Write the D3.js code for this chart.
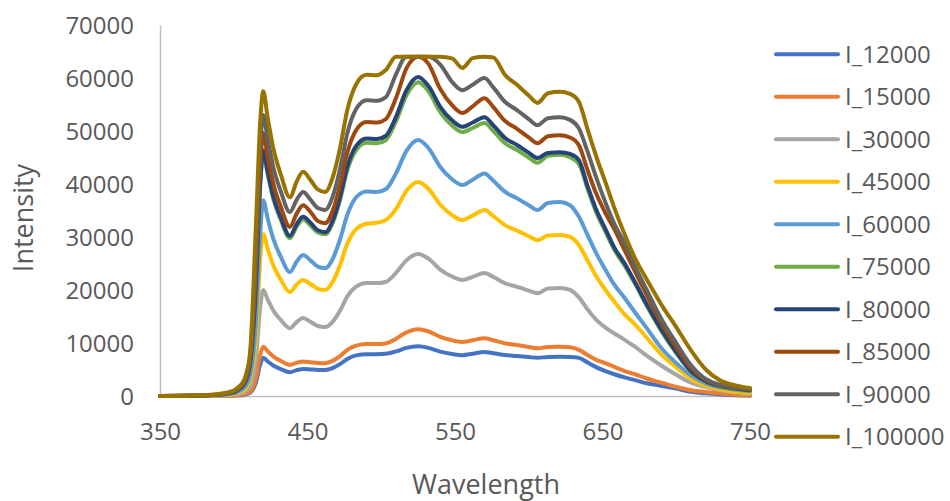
<!DOCTYPE html>
<html>
<head>
<meta charset="utf-8">
<script src="https://cdn.jsdelivr.net/npm/d3@7"></script>
<style>
  body { margin: 0; background: #fff; }
  text { font-family: "Open Sans", sans-serif; fill: #595959; }
</style>
</head>
<body>
<div id="chart"></div>
<script>
// wavelength grid (nm) shared by every series
const wavelength = [350, 380, 395, 402, 407, 411, 415, 418, 420, 423, 427, 432, 438, 443, 447, 452, 457, 462, 467, 472, 477, 483, 490, 497, 503, 510, 517, 525, 532, 540, 548, 555, 562, 570, 576, 584, 592, 600, 606, 613, 621, 628, 634, 640, 646, 652, 658, 665, 672, 680, 690, 700, 710, 720, 730, 740, 750];

const i12000 = [0, 0, 30, 100, 250, 600, 2500, 6000, 7200, 6520, 5720, 5070, 4500, 4900, 5100, 5020, 4920, 4900, 5260, 6010, 6990, 7660, 7900, 7900, 7960, 8430, 9070, 9400, 9090, 8380, 7920, 7700, 7970, 8300, 8080, 7740, 7550, 7340, 7200, 7370, 7400, 7360, 7200, 6300, 5400, 4700, 4100, 3500, 3000, 2400, 1900, 1400, 800, 500, 300, 150, 50];
const i15000 = [0, 0, 40, 150, 350, 800, 3300, 7800, 9300, 8450, 7430, 6610, 5900, 6300, 6500, 6380, 6240, 6200, 6630, 7530, 8720, 9510, 9800, 9800, 9910, 10780, 11980, 12600, 12170, 11160, 10510, 10200, 10520, 10900, 10520, 9930, 9610, 9250, 9000, 9260, 9300, 9180, 8700, 7700, 6800, 6200, 5500, 4700, 4100, 3300, 2500, 1700, 1100, 750, 450, 250, 100];
const i30000 = [0, 20, 100, 300, 700, 1700, 7000, 17000, 20000, 18200, 16040, 14310, 12800, 14050, 14700, 14020, 13200, 13000, 14000, 16070, 18810, 20640, 21300, 21300, 21520, 23230, 25590, 26800, 25920, 23860, 22540, 21900, 22490, 23200, 22440, 21260, 20620, 19890, 19400, 20270, 20400, 20020, 18600, 16300, 14300, 12900, 11800, 10600, 9300, 7600, 5700, 4000, 2500, 1700, 1100, 700, 400];
const i45000 = [0, 50, 200, 500, 1100, 3000, 11000, 26000, 30500, 27780, 24510, 21890, 19600, 21120, 21900, 21140, 20230, 20000, 21500, 24630, 28750, 31500, 32500, 32700, 33200, 35270, 38660, 40400, 39100, 36080, 34140, 33200, 34060, 35100, 33960, 32190, 31220, 30140, 29400, 30270, 30400, 30020, 28500, 25500, 22500, 20000, 17800, 15400, 13500, 11000, 7800, 5400, 3200, 1900, 1200, 800, 500];
const i60000 = [0, 80, 300, 700, 1500, 3800, 14000, 31000, 36900, 33500, 29500, 26200, 23400, 25500, 26600, 25600, 24400, 24100, 25800, 29500, 34200, 37500, 38600, 38500, 39000, 42000, 46200, 48300, 46800, 43200, 40900, 39800, 40800, 42000, 40600, 38500, 37300, 36000, 35100, 36400, 36600, 36000, 33800, 30300, 26800, 23800, 21000, 18500, 15800, 12800, 9000, 6200, 3900, 2400, 1600, 1200, 900];
const i75000 = [0, 100, 400, 1000, 2200, 6000, 20000, 40000, 45800, 41800, 37000, 33160, 29800, 32110, 33300, 32180, 30840, 30500, 32580, 36900, 42610, 46420, 47800, 47700, 48260, 51790, 56690, 59200, 57510, 53560, 51020, 49800, 50570, 51500, 50000, 47680, 46400, 44980, 44000, 45310, 45500, 45040, 43800, 39000, 34500, 31000, 27600, 24600, 21200, 17000, 12200, 8100, 4600, 2700, 1800, 1300, 1000];
const i80000 = [0, 100, 400, 1000, 2200, 6000, 20500, 40500, 46300, 42280, 37450, 33580, 30200, 32580, 33800, 32680, 31260, 30900, 33020, 37450, 43290, 47180, 48600, 48500, 49060, 52660, 57650, 60200, 58510, 54560, 52020, 50800, 51610, 52600, 51060, 48670, 47360, 45900, 44900, 45860, 46000, 45700, 44500, 39500, 35000, 31500, 28000, 25000, 21500, 17300, 12500, 8300, 4700, 2800, 1900, 1400, 1100];
const i85000 = [0, 120, 450, 1100, 2500, 6800, 23000, 43500, 49600, 45180, 39870, 35620, 31900, 34610, 36000, 34760, 33010, 32600, 34890, 39670, 45970, 50170, 51700, 51600, 52220, 56220, 61770, 64000, 62670, 57920, 54870, 53400, 54660, 56200, 54500, 51870, 50420, 48800, 47700, 49010, 49200, 48780, 47300, 42500, 38000, 34500, 31500, 27500, 23500, 19000, 13800, 9200, 5300, 3000, 2000, 1500, 1200];
const i90000 = [0, 130, 500, 1200, 2700, 7300, 26000, 47000, 53000, 48430, 42940, 38540, 34700, 37210, 38500, 37060, 35460, 35100, 37580, 42760, 49590, 54140, 55800, 55700, 56360, 60700, 64000, 64000, 64000, 62540, 59270, 57700, 58740, 60000, 58220, 55470, 53960, 52260, 51100, 52410, 52600, 52100, 50500, 46000, 41000, 36500, 32500, 28800, 24500, 20000, 14500, 10000, 5800, 3200, 2100, 1600, 1300];
const i100000 = [0, 150, 600, 1400, 3000, 8000, 32000, 52000, 57500, 52500, 46500, 41700, 37500, 40670, 42300, 40780, 38980, 38500, 41150, 46680, 53970, 58830, 60600, 60500, 61500, 64000, 64000, 64000, 64000, 64000, 63700, 61900, 63750, 64000, 63860, 60540, 58720, 56690, 55300, 57130, 57400, 57000, 55500, 50200, 45000, 40300, 35500, 30500, 26000, 22000, 17200, 13000, 8600, 5000, 2900, 2000, 1500];

const seriesNames = ['I_12000', 'I_15000', 'I_30000', 'I_45000', 'I_60000', 'I_75000', 'I_80000', 'I_85000', 'I_90000', 'I_100000'];
const seriesValues = [i12000, i15000, i30000, i45000, i60000, i75000, i80000, i85000, i90000, i100000];
const seriesColors = ['#4472C4', '#ED7D31', '#A5A5A5', '#FFC000', '#5B9BD5', '#70AD47', '#264478', '#9E480E', '#636363', '#997300'];

const xTicks = [350, 450, 550, 650, 750];
const yTicks = [0, 10000, 20000, 30000, 40000, 50000, 60000, 70000];

// set the dimensions of the plot area
const width = 950, height = 501;
const plot = ({ left: 160, right: 750, top: 25, bottom: 396 });

var svg = d3.select("#chart")
    .append("svg")
    .attr("width", width)
    .attr("height", height);

var x = d3.scaleLinear().domain([350, 750]).range([plot.left, plot.right]);
var y = d3.scaleLinear().domain([0, 70000]).range([plot.bottom, plot.top]);

// y axis, plain numbers without separators
var yAxis = svg.append("g")
    .attr("transform", "translate(" + plot.left + ",0)")
    .call(d3.axisLeft(y).tickValues(yTicks).tickFormat(d3.format("d"))
        .tickSize(0).tickSizeOuter(0).tickPadding(26));
yAxis.select(".domain").attr("stroke", "#bfbfbf").attr("stroke-width", 1.5);
yAxis.selectAll("text")
    .attr("dy", "0.35em")
    .style("font-size", "24px")
    .style("font-family", "'Open Sans', sans-serif")
    .attr("fill", "#595959");

// x axis
var xAxis = svg.append("g")
    .attr("transform", "translate(0," + plot.bottom + ")")
    .call(d3.axisBottom(x).tickValues(xTicks).tickFormat(d3.format("d"))
        .tickSize(0).tickSizeOuter(0));
xAxis.select(".domain").attr("stroke", "#bfbfbf").attr("stroke-width", 1.5);
xAxis.selectAll("text")
    .attr("y", 35.5)
    .attr("dy", "0.35em")
    .style("font-size", "24px")
    .style("font-family", "'Open Sans', sans-serif")
    .attr("fill", "#595959");

// axis titles
svg.append("text")
    .attr("x", 486)
    .attr("y", 485)
    .attr("dy", "0.35em")
    .attr("text-anchor", "middle")
    .style("font-size", "27px")
    .text("Wavelength");

svg.append("text")
    .attr("transform", "translate(24,218) rotate(-90)")
    .attr("dy", "0.35em")
    .attr("text-anchor", "middle")
    .style("font-size", "27px")
    .text("Intensity");

// the spectra, last series drawn on top
var line = d3.line()
    .x(function (d, i) { return x(wavelength[i]); })
    .y(function (d) { return y(d); })
    .curve(d3.curveMonotoneX);

svg.append("g").selectAll("path")
    .data(seriesValues)
    .enter().append("path")
    .attr("d", line)
    .attr("fill", "none")
    .attr("stroke", function (d, i) { return seriesColors[i]; })
    .attr("stroke-width", 4)
    .attr("stroke-linejoin", "round")
    .attr("stroke-linecap", "round");

// legend
var legend = svg.append("g").selectAll("g")
    .data(seriesNames)
    .enter().append("g")
    .attr("transform", function (d, i) { return "translate(776," + (54.3 + i * 42.5) + ")"; });

legend.append("line")
    .attr("x1", 0)
    .attr("x2", 62)
    .attr("stroke", function (d, i) { return seriesColors[i]; })
    .attr("stroke-width", 4)
    .attr("stroke-linecap", "round");

legend.append("text")
    .attr("x", 69)
    .attr("dy", "0.35em")
    .style("font-size", "24px")
    .text(function (d) { return d; });
</script>
</body>
</html>
